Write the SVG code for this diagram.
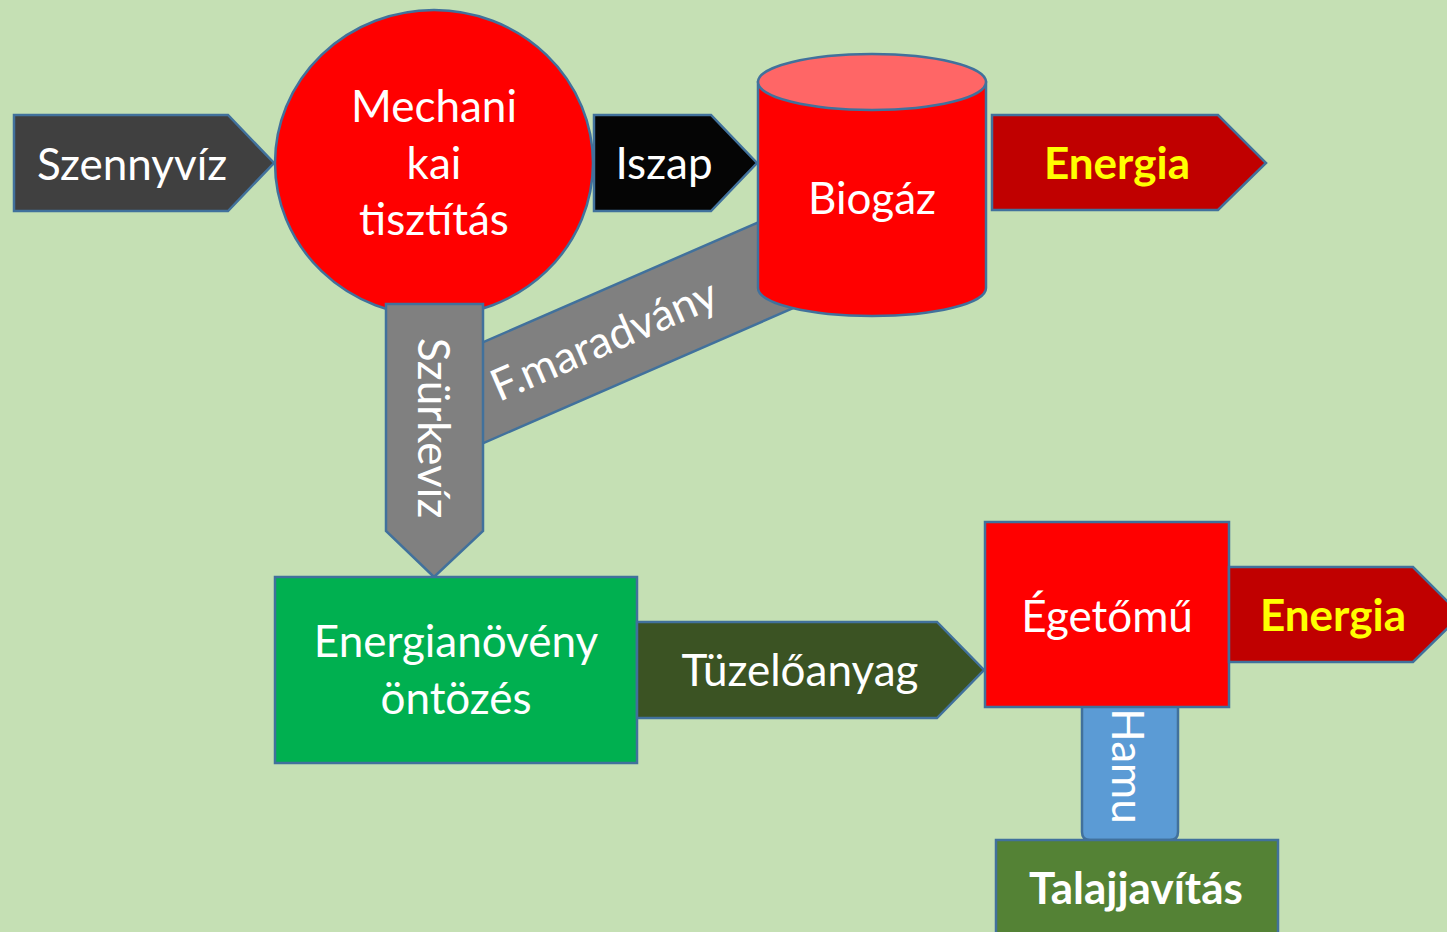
<svg xmlns="http://www.w3.org/2000/svg" width="1447" height="932" viewBox="0 0 1447 932">
<style>
.s{stroke:#41719C;stroke-width:2.5;stroke-linejoin:miter}
.t{font-family:Lato,"Open Sans","DejaVu Sans",sans-serif;font-size:44px;fill:#FFFFFF;text-anchor:middle}
.b{font-weight:bold}
.y{fill:#FFFF00}
</style>
<rect x="0" y="0" width="1447" height="932" fill="#C5E0B4"/>
<g id="connectors">
  <g id="szennyviz">
    <polygon class="s" points="14,115 228,115 274,163 228,211 14,211" fill="#404040"/>
    <text class="t" x="132" y="180">Szennyvíz</text>
  </g>
  <g id="iszap">
    <polygon class="s" points="594,115 711,115 757,163 711,211 594,211" fill="#050505"/>
    <text class="t" x="664" y="179">Iszap</text>
  </g>
  <g id="fmaradvany">
    <polygon class="s" points="440,361 860,178 860,279 440,462" fill="#808080"/>
  </g>
</g>
<g id="mechanikai">
  <ellipse class="s" cx="434" cy="163" rx="159" ry="153" fill="#FF0000"/>
  <text class="t" x="434" y="122">Mechani</text>
  <text class="t" x="434" y="179">kai</text>
  <text class="t" x="434" y="235">tisztítás</text>
</g>
<g id="szurkeviz">
  <polygon class="s" points="386,304 483,304 483,531 434,577 386,531" fill="#808080"/>
  <text class="t" transform="translate(418,428) rotate(90)" x="0" y="0">Szürkevíz</text>
</g>
<g id="fmaradvany-label">
  <text class="t" transform="translate(604,340) rotate(-23.5)" x="0" y="15">F.maradvány</text>
</g>
<g id="biogaz">
  <path class="s" d="M758,82 L758,288 A114,28 0 0 0 986,288 L986,82 Z" fill="#FF0000"/>
  <ellipse class="s" cx="872" cy="82" rx="114" ry="28" fill="#FF6666"/>
  <text class="t" x="872" y="214">Biogáz</text>
</g>
<g id="energia1">
  <polygon class="s" points="992,115 1218,115 1266,163 1218,210 992,210" fill="#C00000"/>
  <text class="t b y" x="1117" y="179">Energia</text>
</g>
<g id="energianoveny">
  <rect class="s" x="275" y="577" width="362" height="186" fill="#00B050"/>
  <text class="t" x="456" y="657">Energianövény</text>
  <text class="t" x="456" y="714">öntözés</text>
</g>
<g id="tuzeloanyag">
  <polygon class="s" points="637,622 937,622 984,670 937,718 637,718" fill="#3B5323"/>
  <text class="t" x="800" y="686">Tüzelőanyag</text>
</g>
<g id="hamu">
  <path class="s" d="M1082,700 L1178,700 L1178,832 Q1178,840 1170,840 L1090,840 Q1082,840 1082,832 Z" fill="#5B9BD5"/>
  <text class="t" transform="translate(1112,766) rotate(90)" x="0" y="0">Hamu</text>
</g>
<g id="egetomu">
  <rect class="s" x="985" y="522" width="244" height="185" fill="#FF0000"/>
  <text class="t" x="1107" y="632">Égetőmű</text>
</g>
<g id="energia2">
  <polygon class="s" points="1229,567 1413,567 1461,615 1413,662 1229,662" fill="#C00000"/>
  <text class="t b y" x="1333" y="631">Energia</text>
</g>
<g id="talajjavitas">
  <rect class="s" x="996" y="840" width="282" height="110" fill="#548235"/>
  <text class="t b" x="1136" y="904">Talajjavítás</text>
</g>
</svg>
